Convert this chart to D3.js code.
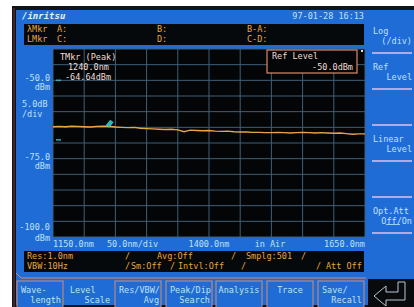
<!DOCTYPE html>
<html>
<head>
<meta charset="utf-8">
<script src="https://cdn.jsdelivr.net/npm/d3@7"></script>
<style>
  html, body { margin: 0; padding: 0; background: #ffffff; }
  svg text { font-family: "DejaVu Sans Mono", monospace; font-size: 8.5px; }
</style>
</head>
<body>
<svg id="screen"></svg>
<script>
// Données lues sur l'écran (trace en dBm, pas de 10 nm)
const wavelengths = [1150, 1160, 1170, 1180, 1190, 1200, 1210, 1220, 1230, 1240,
  1250, 1260, 1270, 1280, 1290, 1300, 1310, 1320, 1330, 1340,
  1350, 1360, 1370, 1380, 1390, 1400, 1410, 1420, 1430, 1440,
  1450, 1460, 1470, 1480, 1490, 1500, 1510, 1520, 1530, 1540,
  1550, 1560, 1570, 1580, 1590, 1600, 1610, 1620, 1630, 1640, 1650];
const levels = [-64.8, -64.7, -64.8, -64.6, -64.7, -64.8, -64.9, -64.7, -64.6, -64.64,
  -64.9, -65.0, -65.1, -65.0, -65.3, -65.4, -65.5, -65.6, -65.7, -65.6,
  -65.8, -66.4, -65.9, -66.0, -66.1, -66.0, -66.2, -66.3, -66.2, -66.4,
  -66.5, -66.5, -66.6, -66.6, -66.7, -66.7, -66.6, -66.7, -66.8, -66.7,
  -66.6, -66.7, -66.8, -66.7, -66.8, -66.9, -66.8, -67.0, -67.2, -67.1, -67.1];

const markerWl = 1240.0, markerLevel = -64.64;
const levelLabels = [-50, -75, -100];
const xLabels = ["1150.0nm", "50.0nm/div", "1400.0nm", "in Air", "1650.0nm"];
const softkeysRight = [["Log", "(/div)"], ["Ref", "Level"], ["", ""], ["Linear", "Level"], ["", ""], ["Opt.Att", "Off/On"]];
const softkeysBottom = [["Wave-", "length"], ["Level", "Scale"], ["Res/VBW/", "Avg"], ["Peak/Dip", "Search"], ["Analysis", ""], ["Trace", ""], ["Save/", "Recall"]];

const W = 414, H = 307;
const blue = "#1f6cd6", txt = "#bfe2f8", orange = "#e9a63a", salmon = "#d98c6c";

const svg = d3.select("#screen").attr("width", W).attr("height", H);

// fond et cadre
svg.append("rect").attr("width", W).attr("height", H).attr("fill", "#ffffff");
svg.append("rect").attr("x", 12).attr("y", 6).attr("width", W - 12).attr("height", H - 6).attr("fill", "#101418");
svg.append("rect").attr("x", 16).attr("y", 10).attr("width", W - 16).attr("height", H - 12).attr("fill", blue);
svg.append("line").attr("x1", 14).attr("x2", 14).attr("y1", 8).attr("y2", H).attr("stroke", "#7a3030").attr("stroke-width", 1);

// en-tête
svg.append("text").attr("x", 22).attr("y", 19).attr("fill", "#e8f4ff")
  .style("font-style", "italic").style("font-size", "9px").style("font-weight", "bold").text("/inritsu");
svg.append("text").attr("x", 364).attr("y", 19).attr("text-anchor", "end").attr("fill", txt).text("97-01-28 16:13");

// bandeau marqueurs
svg.append("rect").attr("x", 24).attr("y", 24).attr("width", 340).attr("height", 21).attr("fill", "#06090c");
const mk = svg.append("g").attr("fill", orange);
mk.append("text").attr("x", 27).attr("y", 32).text("λMkr");
mk.append("text").attr("x", 57).attr("y", 32).text("A:");
mk.append("text").attr("x", 157).attr("y", 32).text("B:");
mk.append("text").attr("x", 247).attr("y", 32).text("B-A:");
mk.append("text").attr("x", 27).attr("y", 42).text("LMkr");
mk.append("text").attr("x", 57).attr("y", 42).text("C:");
mk.append("text").attr("x", 157).attr("y", 42).text("D:");
mk.append("text").attr("x", 247).attr("y", 42).text("C-D:");

// zone de tracé
const x = d3.scaleLinear().domain([1150, 1650]).range([53, 365]);
const y = d3.scaleLinear().domain([-100, -40]).range([237, 49]);

svg.append("rect").attr("x", 53).attr("y", 49).attr("width", 312).attr("height", 188).attr("fill", "#030507");

const grid = svg.append("g").attr("stroke", "#3f6178").attr("stroke-width", 1);
grid.selectAll("line.v").data(d3.range(1150, 1651, 50)).join("line")
  .attr("x1", d => x(d)).attr("x2", d => x(d)).attr("y1", 49).attr("y2", 237);
grid.selectAll("line.h").data(d3.range(-100, -39, 5)).join("line")
  .attr("x1", 53).attr("x2", 365).attr("y1", d => y(d)).attr("y2", d => y(d));

// étiquettes de niveau
const lv = svg.append("g").attr("fill", txt).attr("text-anchor", "end");
levelLabels.forEach(v => {
  lv.append("text").attr("x", 50).attr("y", y(v) + (v === -100 ? -7 : 1)).text(v.toFixed(1));
  lv.append("text").attr("x", 50).attr("y", y(v) + (v === -100 ? 4 : 10)).text("dBm");
});
svg.append("text").attr("x", 22).attr("y", 107).attr("fill", txt).text("5.0dB");
svg.append("text").attr("x", 22).attr("y", 117).attr("fill", txt).text("/div");

// petits repères cyan à gauche
svg.append("line").attr("x1", 56).attr("x2", 61).attr("y1", y(-50)).attr("y2", y(-50)).attr("stroke", "#3aa8b8").attr("stroke-width", 1.5);
svg.append("line").attr("x1", 56).attr("x2", 61).attr("y1", y(-69)).attr("y2", y(-69)).attr("stroke", "#3aa8b8").attr("stroke-width", 1.5);

// trace
const line = d3.line().x((d, i) => x(wavelengths[i])).y(d => y(d)).curve(d3.curveLinear);
svg.append("path").datum(levels).attr("d", line)
  .attr("fill", "none").attr("stroke", "#e8a448").attr("stroke-width", 1.4);

// marqueur
const mx = x(markerWl), my = y(markerLevel);
svg.append("path").attr("d", `M${mx - 3},${my - 1} L${mx + 1},${my - 6} L${mx + 4},${my - 4} L${mx},${my + 1} Z`)
  .attr("fill", "#2fb8b0").attr("stroke", "#5fd8d0").attr("stroke-width", 0.6);

// texte marqueur
const tm = svg.append("g").attr("fill", "#f2dcd4");
tm.append("text").attr("x", 60).attr("y", 60).text("TMkr (Peak)");
tm.append("text").attr("x", 68).attr("y", 70).text(markerWl.toFixed(1) + "nm");
tm.append("text").attr("x", 65).attr("y", 80).text(markerLevel.toFixed(2) + "dBm");

// boîte Ref Level
svg.append("rect").attr("x", 267).attr("y", 50).attr("width", 90).attr("height", 23)
  .attr("fill", "#050607").attr("stroke", salmon).attr("stroke-width", 1.2);
svg.append("text").attr("x", 272).attr("y", 59).attr("fill", "#f2dcd4").text("Ref Level");
svg.append("text").attr("x", 353).attr("y", 70).attr("text-anchor", "end").attr("fill", "#f2dcd4").text("-50.0dBm");
svg.append("rect").attr("x", 361).attr("y", 50).attr("width", 2).attr("height", 2).attr("fill", "#e8e8e8");

// axe des longueurs d'onde
const xl = svg.append("g").attr("fill", txt);
xl.append("text").attr("x", 53).attr("y", 247).text(xLabels[0]);
xl.append("text").attr("x", 107).attr("y", 247).text(xLabels[1]);
xl.append("text").attr("x", x(1400)).attr("y", 247).attr("text-anchor", "middle").text(xLabels[2]);
xl.append("text").attr("x", 270).attr("y", 247).attr("text-anchor", "middle").text(xLabels[3]);
xl.append("text").attr("x", 365).attr("y", 247).attr("text-anchor", "end").text(xLabels[4]);

// bandeau d'état
svg.append("rect").attr("x", 24).attr("y", 251).attr("width", 340).attr("height", 21).attr("fill", "#06090c");
const st = svg.append("g").attr("fill", orange);
[["Res:1.0nm", 27, 259], ["/", 125, 259], ["Avg:Off", 157, 259], ["/", 231, 259], ["Smplg:501", 246, 259], ["/", 301, 259],
 ["VBW:10Hz", 27, 269], ["/", 125, 269], ["Sm:Off", 131, 269], ["/", 170, 269], ["Intvl:Off", 178, 269], ["/", 241, 269], ["/", 316, 269], ["Att Off", 326, 269]]
  .forEach(([t, px, py]) => st.append("text").attr("x", px).attr("y", py).text(t));

// touches de droite
const sr = svg.append("g");
softkeysRight.forEach((k, i) => {
  const top = 17 + i * 36;
  sr.append("text").attr("x", 373).attr("y", top + 17).attr("fill", txt).text(k[0]);
  sr.append("text").attr("x", 412).attr("y", top + 27).attr("text-anchor", "end").attr("fill", txt).text(k[1]);
  sr.append("line").attr("x1", 372).attr("x2", 412).attr("y1", top + 36).attr("y2", top + 36)
    .attr("stroke", "#e6bfe0").attr("stroke-width", 1.3);
});
sr.append("line").attr("x1", 386).attr("x2", 400).attr("y1", 224.5).attr("y2", 224.5).attr("stroke", txt).attr("stroke-width", 0.8);

// touches du bas
svg.append("path").attr("d", "M16,273 L21,278 L366,278").attr("fill", "none").attr("stroke", salmon).attr("stroke-width", 1);
const bx = [17, 66, 115, 166, 216, 267, 318];
softkeysBottom.forEach((k, i) => {
  const x0 = bx[i], w = 46;
  const g = svg.append("g");
  if (i !== 1) {
    g.append("rect").attr("x", x0).attr("y", 281).attr("width", w).attr("height", 28)
      .attr("fill", blue).attr("stroke", salmon).attr("stroke-width", 1);
  }
  if (k[1] === "") {
    g.append("text").attr("x", x0 + w / 2).attr("y", 293).attr("text-anchor", "middle").attr("fill", txt).text(k[0]);
  } else {
    g.append("text").attr("x", x0 + 4).attr("y", 293).attr("fill", txt).text(k[0]);
    g.append("text").attr("x", x0 + w - 2).attr("y", 303).attr("text-anchor", "end").attr("fill", txt).text(k[1]);
  }
});

// touche retour
svg.append("rect").attr("x", 368).attr("y", 279).attr("width", 46).attr("height", 28).attr("fill", "#080a0c");
svg.append("path").attr("d", "M374,296 L386,286 L386,292 L398,292 L398,282 L405,282 L405,300 L386,300 L386,306 Z")
  .attr("fill", "none").attr("stroke", "#b8c8d8").attr("stroke-width", 1);
</script>
</body>
</html>
